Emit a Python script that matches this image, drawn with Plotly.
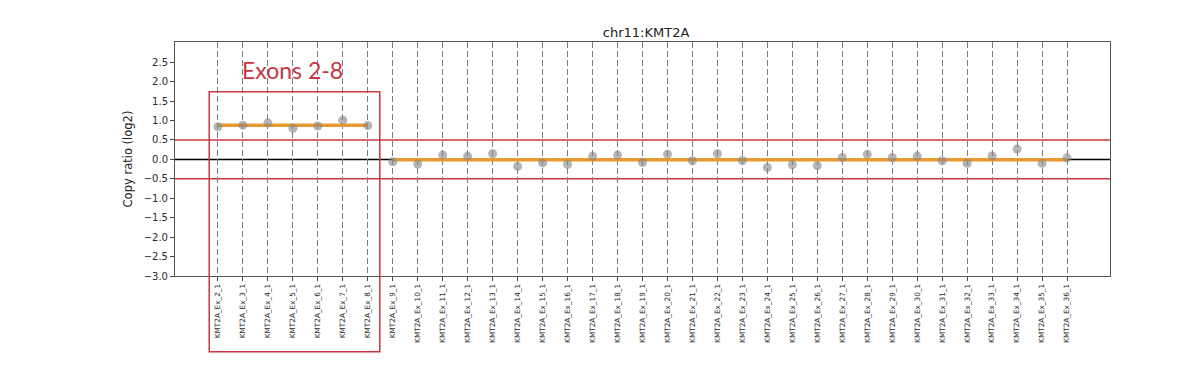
import plotly.graph_objects as go

exons = [f"KMT2A_Ex_{i}_1" for i in range(2, 37)]
copy_ratio = [0.84, 0.88, 0.94, 0.80, 0.86, 1.01, 0.87,
              -0.06, -0.12, 0.11, 0.085, 0.145, -0.18, -0.09, -0.13, 0.085, 0.11,
              -0.08, 0.135, -0.035, 0.145, -0.03, -0.21, -0.14, -0.16, 0.05, 0.135,
              0.05, 0.085, -0.035, -0.10, 0.09, 0.265, -0.10, 0.04]
segment_starts = ["KMT2A_Ex_2_1", "KMT2A_Ex_9_1"]
segment_ends = ["KMT2A_Ex_8_1", "KMT2A_Ex_36_1"]
segment_means = [0.88, -0.01]
thresholds = [0.5, -0.5]
ytick_vals = [-3.0, -2.5, -2.0, -1.5, -1.0, -0.5, 0.0, 0.5, 1.0, 1.5, 2.0, 2.5]
highlight_label = "Exons 2-8"

RED = "#c8373f"
ORANGE = "#e8992f"

fig = go.Figure()

for xs, xe, m in zip(segment_starts, segment_ends, segment_means):
    fig.add_trace(go.Scatter(
        x=[exons.index(xs), exons.index(xe)], y=[m, m], mode="lines",
        line=dict(color=ORANGE, width=3.5), showlegend=False, hoverinfo="skip"))

fig.add_trace(go.Scatter(
    x=list(range(len(exons))), y=copy_ratio, mode="markers",
    marker=dict(size=9, color="rgba(135,135,135,0.62)",
                line=dict(width=0)),
    showlegend=False))

shapes = []
shapes.append(dict(type="line", xref="paper", yref="y", x0=0, x1=1, y0=0, y1=0,
                   line=dict(color="black", width=1.5), layer="below"))
for t in thresholds:
    shapes.append(dict(type="line", xref="paper", yref="y", x0=0, x1=1, y0=t, y1=t,
                       line=dict(color=RED, width=1.5), layer="below"))
# highlight box around exons 2-8
shapes.append(dict(type="rect", xref="x", yref="paper",
                   x0=exons.index("KMT2A_Ex_2_1") - 0.35, x1=exons.index("KMT2A_Ex_8_1") + 0.48,
                   y0=-0.3235, y1=0.7876,
                   line=dict(color=RED, width=1.5), fillcolor="rgba(0,0,0,0)"))

# page body has an 8px default margin; size the figure to fit inside the 1200x387 window
fig.update_layout(
    width=1192, height=379,
    margin=dict(l=167, r=90, t=34, b=111, autoexpand=False),
    paper_bgcolor="white", plot_bgcolor="white",
    title=dict(text="chr11:KMT2A", x=0.5353, xanchor="center", y=0.935, yanchor="middle",
               font=dict(family="DejaVu Sans", size=13, color="#222222")),
    shapes=shapes,
    annotations=[dict(text=highlight_label, x=exons.index("KMT2A_Ex_5_1"), y=2.3,
                      xref="x", yref="y", showarrow=False,
                      font=dict(family="Lato", size=23, color=RED))],
    font=dict(family="DejaVu Sans", color="#333333"),
)

fig.update_xaxes(
    range=[-1.72, len(exons) - 1 + 1.72], automargin=False,
    tickvals=list(range(len(exons))), ticktext=exons, tickangle=-90,
    tickfont=dict(family="DejaVu Sans", size=7.3, color="#2a2a2a"),
    ticks="outside", ticklen=4, tickcolor="#444444",
    showgrid=True, gridcolor="#7c7c7c", gridwidth=1.3, griddash="6px,3px",
    showline=True, linecolor="#555555", linewidth=1, mirror=True,
    zeroline=False,
)
fig.update_yaxes(
    range=[-3.0, 3.02], automargin=False,
    tickvals=ytick_vals, tickformat=".1f",
    tickfont=dict(family="DejaVu Sans", size=10, color="#2a2a2a"),
    ticks="outside", ticklen=4, tickcolor="#444444",
    showgrid=False, zeroline=False,
    showline=True, linecolor="#555555", linewidth=1, mirror=True,
    title=dict(text="Copy ratio (log2)", font=dict(family="DejaVu Sans", size=11.5, color="#222222"),
               standoff=8),
)

fig.write_html("out.html")
